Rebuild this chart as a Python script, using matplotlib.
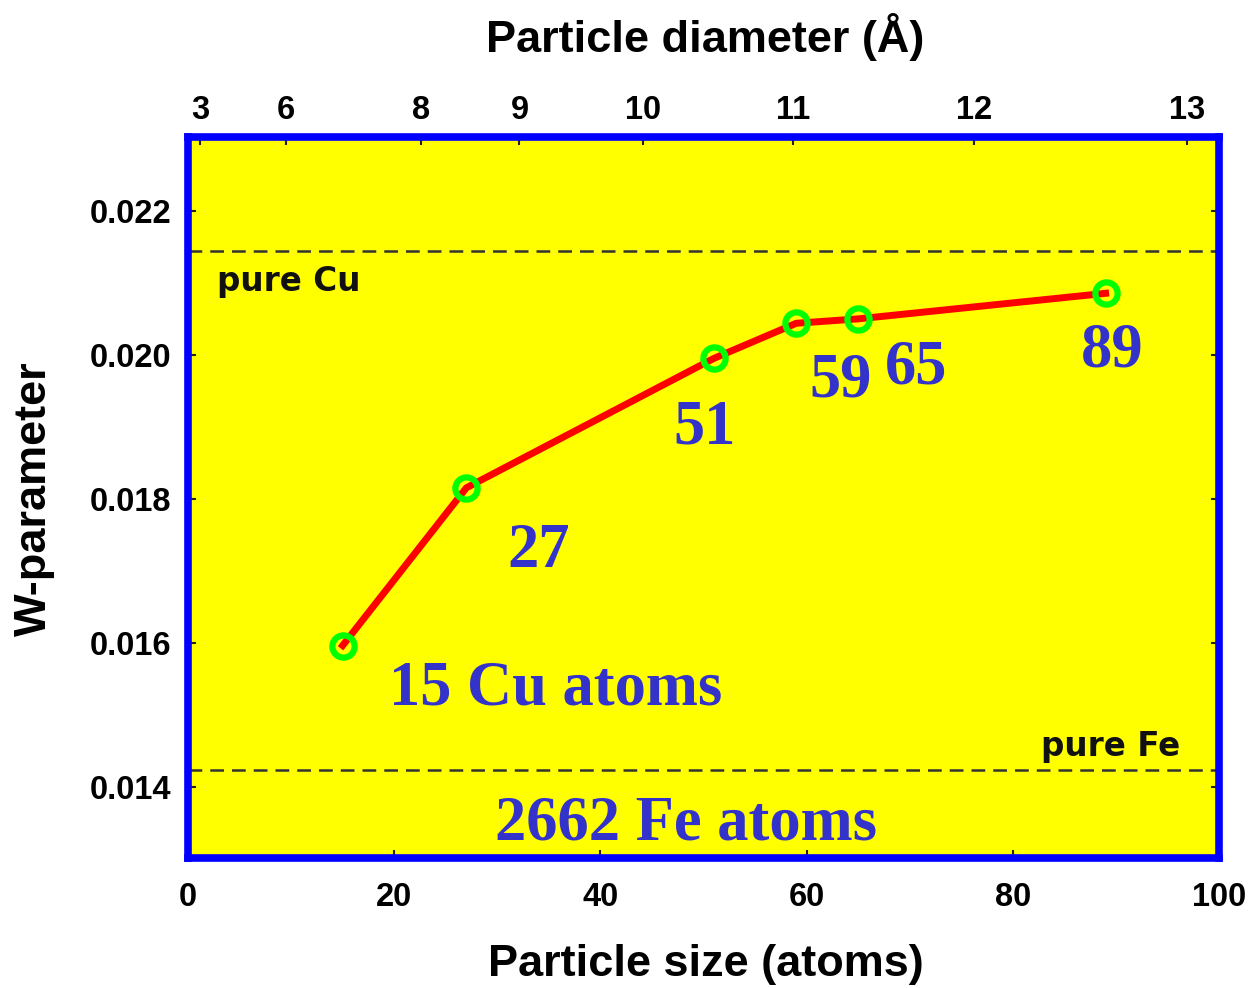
import numpy as np
import matplotlib
matplotlib.use("Agg")
import matplotlib.pyplot as plt

# Data
sizes = [15, 27, 51, 59, 65, 89]
w_param = [0.01597, 0.01816, 0.019956, 0.020444, 0.020505, 0.02086]
size_labels = ["15 Cu atoms", "27", "51", "59", "65", "89"]
label_pos_x = [35.7, 34.0, 50.1, 63.3, 70.6, 89.6]
label_pos_y = [0.01515, 0.01706, 0.01877, 0.01943, 0.01961, 0.01985]
pure_cu = 0.021446
pure_fe = 0.01424
fe_label = "2662 Fe atoms"
diam_ticks = [3, 6, 8, 9, 10, 11, 12, 13]
y_ticks = [0.014, 0.016, 0.018, 0.020, 0.022]
x_ticks = [0, 20, 40, 60, 80, 100]
k_cube = 0.0441  # N = k * d^3

sans = ["Liberation Sans", "DejaVu Sans"]
wide_sans = ["DejaVu Sans"]
serif = ["Liberation Serif", "DejaVu Serif"]
blue_txt = "#3333cc"

fig = plt.figure(figsize=(12.54, 9.88), dpi=100)
ax = fig.add_axes([188/1254, 1 - 858/988, (1219-188)/1254, (858-137)/988])
ax.set_facecolor("#ffff00")
ax.set_xlim(0, 100)
ax.set_ylim(0.01302, 0.02303)

ax.axhline(pure_cu, color="#333333", lw=1.8, dashes=(5.5, 3.2), zorder=2)
ax.axhline(pure_fe, color="#333333", lw=1.8, dashes=(5.5, 3.2), zorder=2)

ax.plot(sizes, w_param, color="#ff0000", lw=5, zorder=3)
ax.plot(sizes, w_param, ls="none", marker="o", ms=16, mfc="none",
        mec="#00ff00", mew=4.5, zorder=4)

for s, xx, yy in zip(size_labels, label_pos_x, label_pos_y):
    ax.text(xx, yy, s, ha="center", va="baseline", color=blue_txt,
            fontsize=45, fontweight="bold", family=serif)
ax.text(48.3, 0.01327, fe_label, ha="center", va="baseline", color=blue_txt,
        fontsize=45, fontweight="bold", family=serif)

ax.text(2.8, pure_cu - 0.00055, "pure Cu", ha="left", va="baseline",
        fontsize=23.5, fontweight="bold", family=wide_sans, color="#111111")
ax.text(96.2, pure_fe + 0.00020, "pure Fe", ha="right", va="baseline",
        fontsize=23.5, fontweight="bold", family=wide_sans, color="#111111")

for sp in ax.spines.values():
    sp.set_color("#0000ff")
    sp.set_linewidth(5.5)

ax.set_xticks(x_ticks)
ax.set_yticks(y_ticks)
ax.set_yticklabels([f"{v:.3f}" for v in y_ticks])
ax.tick_params(axis="both", direction="in", length=6, width=1.5, color="#222222",
               labelsize=23.5)
ax.tick_params(axis="x", pad=17)
ax.tick_params(axis="y", right=True, pad=12)
for lab in ax.get_xticklabels() + ax.get_yticklabels():
    lab.set_fontweight("bold")
    lab.set_family(sans)

secax = ax.secondary_xaxis("top",
                           functions=(lambda n: np.cbrt(np.asarray(n, float) / k_cube),
                                      lambda d: k_cube * np.asarray(d, float) ** 3))
secax.set_xticks(diam_ticks)
secax.set_xticklabels([str(d) for d in diam_ticks])
secax.tick_params(direction="in", length=6, width=1.5, color="#222222",
                  labelsize=23.5, pad=8)
secax.spines["top"].set_visible(False)
for lab in secax.get_xticklabels():
    lab.set_fontweight("bold")
    lab.set_family(sans)
secax.set_xlabel("Particle diameter (Å)", fontsize=32.5, fontweight="bold",
                 family=sans)
secax.xaxis.set_label_coords(0.502, 1.118, transform=ax.transAxes)

ax.set_xlabel("Particle size (atoms)", fontsize=32.5, fontweight="bold",
              family=sans)
ax.xaxis.set_label_coords(0.502, -0.1195)
ax.set_ylabel("W-parameter", fontsize=32.5, fontweight="bold", family=sans)
ax.yaxis.set_label_coords(-0.129, 0.4986)

fig.savefig("out.png", dpi=100, facecolor="white")
